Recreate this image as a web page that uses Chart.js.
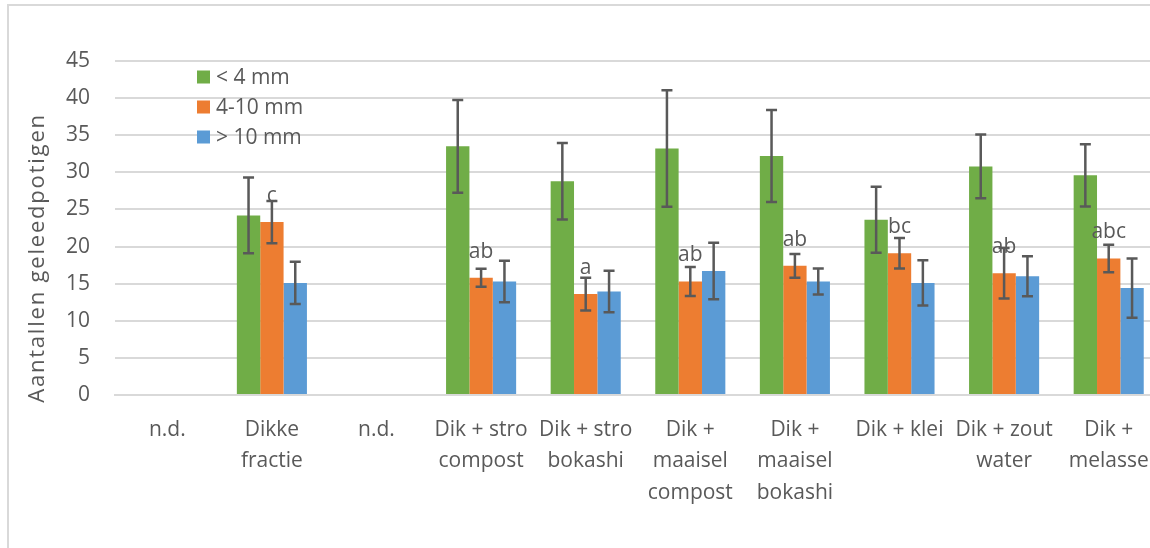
<!DOCTYPE html>
<html>

<head>
	<meta charset="utf-8">
	<title>Aantallen geleedpotigen</title>
	<style>
		html, body {
			margin: 0;
			padding: 0;
			background: #ffffff;
			overflow: hidden;
		}
		.wrap {
			position: relative;
			width: 1150px;
			height: 548px;
			overflow: hidden;
		}
		.frame {
			position: absolute;
			left: 7px;
			top: 4px;
			width: 1300px;
			height: 700px;
			border-left: 2px solid #d9d9d9;
			border-top: 2px solid #d9d9d9;
		}
		#chart {
			position: absolute;
			left: 0;
			top: 0;
		}
	</style>
</head>

<body>
	<div class="wrap">
		<div class="frame"></div>
		<canvas id="chart" width="1175" height="548"></canvas>
	</div>

	<script src="https://cdn.jsdelivr.net/npm/chart.js@4.4.1/dist/chart.umd.min.js"></script>
	<script type="text/javascript">
		const categories = [
			'n.d.',
			['Dikke', 'fractie'],
			'n.d.',
			['Dik + stro', 'compost'],
			['Dik + stro', 'bokashi'],
			['Dik +', 'maaisel', 'compost'],
			['Dik +', 'maaisel', 'bokashi'],
			'Dik + klei',
			['Dik + zout', 'water'],
			['Dik +', 'melasse']
		];
		const seriesNames = ['< 4 mm', '4-10 mm', '> 10 mm'];
		const colors = ['#70ad47', '#ed7d31', '#5b9bd5'];

		// gemiddelde aantallen per fractie
		const small = [null, 24.2, null, 33.5, 28.8, 33.2, 32.2, 23.6, 30.8, 29.6];
		const medium = [null, 23.3, null, 15.8, 13.6, 15.3, 17.4, 19.1, 16.4, 18.4];
		const large = [null, 15.1, null, 15.3, 13.95, 16.7, 15.3, 15.1, 16.0, 14.4];

		// foutmarges (+/-)
		const smallErr = [null, 5.1, null, 6.25, 5.15, 7.85, 6.2, 4.45, 4.3, 4.2];
		const mediumErr = [null, 2.85, null, 1.2, 2.2, 1.95, 1.6, 2.05, 3.4, 1.85];
		const largeErr = [null, 2.85, null, 2.8, 2.8, 3.8, 1.75, 3.05, 2.7, 4.0];

		// significantieletters boven de 4-10 mm staven
		const letters = ['', 'c', '', 'ab', 'a', 'ab', 'ab', 'bc', 'ab', 'abc'];

		const yTicks = [0, 5, 10, 15, 20, 25, 30, 35, 40, 45];

		const textColor = '#595959';
		const fontFamily = '"Open Sans", sans-serif';

		const errorBars = {
			id: 'errorBars',
			afterDatasetsDraw(chart) {
				const ctx = chart.ctx;
				const y = chart.scales.y;
				ctx.save();
				ctx.strokeStyle = '#595959';
				ctx.lineWidth = 2.5;
				chart.data.datasets.forEach((ds, i) => {
					const meta = chart.getDatasetMeta(i);
					meta.data.forEach((bar, j) => {
						const v = ds.data[j];
						const e = ds.errors[j];
						if (v == null || e == null) return;
						const yt = y.getPixelForValue(v + e);
						const yb = y.getPixelForValue(v - e);
						const cap = 5.5;
						ctx.beginPath();
						ctx.moveTo(bar.x, yt);
						ctx.lineTo(bar.x, yb);
						ctx.moveTo(bar.x - cap, yt);
						ctx.lineTo(bar.x + cap, yt);
						ctx.moveTo(bar.x - cap, yb);
						ctx.lineTo(bar.x + cap, yb);
						ctx.stroke();
					});
				});

				// letters
				const meta = chart.getDatasetMeta(1);
				ctx.fillStyle = textColor;
				ctx.font = '21px ' + fontFamily;
				ctx.textAlign = 'center';
				ctx.textBaseline = 'middle';
				meta.data.forEach((bar, j) => {
					if (!letters[j]) return;
					ctx.fillText(letters[j], bar.x, bar.y - 26);
				});
				ctx.restore();
			}
		};

		const innerLegend = {
			id: 'innerLegend',
			afterDraw(chart) {
				const ctx = chart.ctx;
				ctx.save();
				ctx.font = '21px ' + fontFamily;
				ctx.textAlign = 'left';
				ctx.textBaseline = 'middle';
				chart.data.datasets.forEach((ds, i) => {
					const cy = 77 + i * 30;
					ctx.fillStyle = ds.backgroundColor;
					ctx.fillRect(197, cy - 6.5, 13, 13);
					ctx.fillStyle = textColor;
					ctx.fillText(ds.label, 216, cy + 1);
				});

				// as-titel
				ctx.translate(38, 258);
				ctx.rotate(-Math.PI / 2);
				ctx.font = '22px ' + fontFamily;
				ctx.letterSpacing = '1.8px';
				ctx.textAlign = 'center';
				ctx.fillText('Aantallen geleedpotigen', 0, 0);
				ctx.restore();
			}
		};

		const ctx = document.getElementById('chart').getContext('2d');
		const chart = new Chart(ctx, {
			type: 'bar',
			data: {
				labels: categories,
				datasets: [
					{ label: seriesNames[0], data: small, errors: smallErr, backgroundColor: colors[0] },
					{ label: seriesNames[1], data: medium, errors: mediumErr, backgroundColor: colors[1] },
					{ label: seriesNames[2], data: large, errors: largeErr, backgroundColor: colors[2] }
				]
			},
			options: {
				responsive: false,
				animation: false,
				layout: {
					padding: { left: 0, right: 14, top: 61, bottom: 0 }
				},
				datasets: {
					bar: {
						categoryPercentage: 0.67,
						barPercentage: 1.0
					}
				},
				plugins: {
					legend: { display: false },
					tooltip: { enabled: false }
				},
				scales: {
					x: {
						afterFit(scale) { scale.height = 153; },
						grid: { display: false, drawTicks: false },
						border: { color: '#d9d9d9', width: 2 },
						ticks: {
							color: textColor,
							font: { family: fontFamily, size: 21, lineHeight: 1.5 },
							padding: 19,
							autoSkip: false,
							maxRotation: 0,
							minRotation: 0
						}
					},
					y: {
						min: 0,
						max: 45,
						afterFit(scale) { scale.width = 115; },
						afterBuildTicks(scale) {
							scale.ticks = yTicks.map(v => ({ value: v }));
						},
						grid: { color: '#d9d9d9', lineWidth: 2, drawTicks: false },
						border: { display: false },
						ticks: {
							color: textColor,
							font: { family: fontFamily, size: 21 },
							padding: 25
						}
					}
				}
			},
			plugins: [errorBars, innerLegend]
		});
	</script>
</body>

</html>
